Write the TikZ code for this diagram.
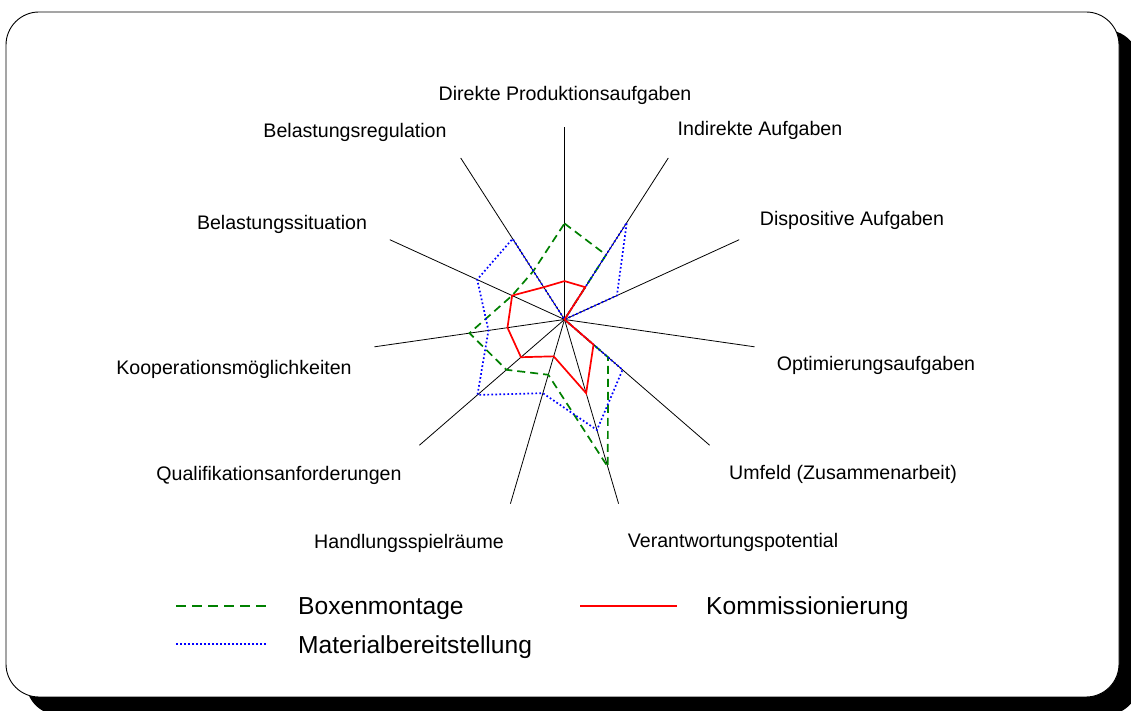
\documentclass[tikz,border=0pt]{standalone}
\usepackage{fontspec}
\setmainfont{Liberation Sans}
\usetikzlibrary{calc}
\definecolor{boxgreen}{RGB}{0,128,0}
\definecolor{matblue}{RGB}{0,0,255}
\definecolor{komred}{RGB}{255,0,0}
\begin{document}
\begin{tikzpicture}[x=1pt,y=1pt,
  axisline/.style={black, line width=0.8pt},
  lbl/.style={font=\fontsize{19.6}{22}\selectfont, inner sep=0pt, anchor=base},
  leg/.style={font=\fontsize{24.6}{28}\selectfont, inner sep=0pt, anchor=base west},
  boxen/.style={boxgreen, line width=1.7pt, dash pattern=on 8pt off 5pt},
  mat/.style={matblue, line width=1.7pt, dash pattern=on 1.7pt off 2.3pt},
  komm/.style={komred, line width=1.7pt},
]
\useasboundingbox (0,0) rectangle (1131,711);
% frame with drop shadow
\fill[black, rounded corners=33pt] (26,-4) rectangle (1139,681);
\draw[black, fill=white, line width=0.9pt, rounded corners=33pt] (6,14) rectangle (1119,699);

% radar axes
\coordinate (O) at (564.5,391.5);
\foreach \i in {0,...,10} {
  \coordinate (a\i) at ($(O)+({90-\i*360/11}:192)$);
  \draw[axisline] (O) -- (a\i);
}

% data points (scale 0..10, 19.2pt per unit)
\foreach \v [count=\i from 0] in {5,4,0,0,3,8,3,4,5,3,3}
  \coordinate (g\i) at ($(O)+({90-\i*360/11}:{\v*19.2})$);
\foreach \v [count=\i from 0] in {0,6,3,0,4,6,4,6,4,5,5}
  \coordinate (b\i) at ($(O)+({90-\i*360/11}:{\v*19.2})$);
\foreach \v [count=\i from 0] in {2,2,0,0,2,4,2,3,3,3,2}
  \coordinate (r\i) at ($(O)+({90-\i*360/11}:{\v*19.2})$);

\draw[boxen] (g0) -- (g1) -- (g2) -- (g3) -- (g4) -- (g5) -- (g6) -- (g7) -- (g8) -- (g9) -- (g10) -- cycle;
\draw[mat] (b0) -- (b1) -- (b2) -- (b3) -- (b4) -- (b5) -- (b6) -- (b7) -- (b8) -- (b9) -- (b10) -- cycle;
\draw[komm] (r0) -- (r1) -- (r2) -- (r3) -- (r4) -- (r5) -- (r6) -- (r7) -- (r8) -- (r9) -- (r10) -- cycle;

% category labels
\node[lbl] (l0) at (565,610) {Direkte Produktionsaufgaben};
\node[lbl] (l1) at (760,575) {Indirekte Aufgaben};
\node[lbl] (l2) at (852,485) {Dispositive Aufgaben};
\node[lbl] (l3) at (876,340) {Optimierungsaufgaben};
\node[lbl] (l4) at (843,231) {Umfeld (Zusammenarbeit)};
\node[lbl] (l5) at (733,163) {Verantwortungspotential};
\node[lbl] (l6) at (409,162) {Handlungsspielräume};
\node[lbl] (l7) at (279,230) {Qualifikationsanforderungen};
\node[lbl] (l8) at (234,336) {Kooperationsmöglichkeiten};
\node[lbl] (l9) at (282,481) {Belastungssituation};
\node[lbl] (l10) at (355,573) {Belastungsregulation};

% legend
\coordinate (kg1) at (176,105);
\coordinate (kg2) at (268,105);
\coordinate (kb1) at (176,67);
\coordinate (kb2) at (266,67);
\coordinate (kr1) at (580,105);
\coordinate (kr2) at (677,105);
\draw[boxen, dash pattern=on 10pt off 6pt] (kg1) -- (kg2);
\draw[mat] (kb1) -- (kb2);
\draw[komm] (kr1) -- (kr2);
\node[leg] (t1) at (298,96) {Boxenmontage};
\node[leg] (t2) at (298,57) {Materialbereitstellung};
\node[leg] (t3) at (706,96) {Kommissionierung};
\end{tikzpicture}
\end{document}
